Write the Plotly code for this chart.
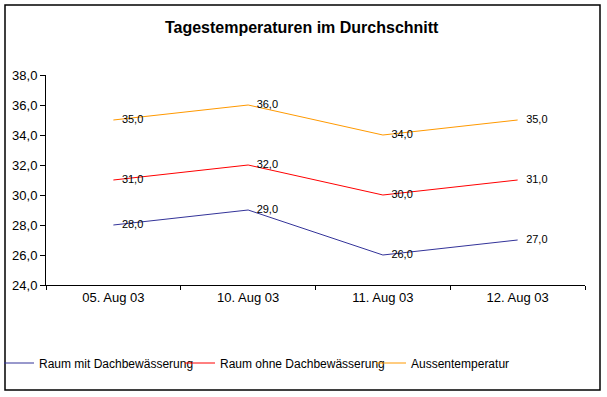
import plotly.graph_objects as go

categories = ["05. Aug 03", "10. Aug 03", "11. Aug 03", "12. Aug 03"]
raum_mit = [28.0, 29.0, 26.0, 27.0]
raum_ohne = [31.0, 32.0, 30.0, 31.0]
aussen = [35.0, 36.0, 34.0, 35.0]
series_names = ["Raum mit Dachbewässerung", "Raum ohne Dachbewässerung", "Aussentemperatur"]
series_colors = ["#333399", "#FF0000", "#FF9900"]

FONT = "Liberation Sans, Arial, sans-serif"

# plot area in pixels: x 46..585, y 75..285
PL, PR, PT, PB = 46, 585, 75, 285
W, H = PR - PL, PB - PT

def px_x(x):
    return (x - PL) / W

def px_y(y):
    return (PB - y) / H

legend_ids = ["legend", "legend2", "legend3"]
legend_text_x = [39, 220, 411]

fig = go.Figure()
for name, vals, col, lid in zip(series_names, [raum_mit, raum_ohne, aussen], series_colors, legend_ids):
    fig.add_trace(go.Scatter(
        x=categories, y=vals, name=name, mode="lines+markers+text",
        line=dict(color=col, width=1),
        marker=dict(size=12, color="rgba(0,0,0,0)"),
        text=[f"{v:.1f}".replace(".", ",") for v in vals],
        textposition="middle right",
        textfont=dict(family=FONT, size=11, color="black"),
        cliponaxis=False,
        legend=lid,
    ))

legend_common = dict(orientation="h", yanchor="middle", xanchor="left",
                     font=dict(family=FONT, size=12, color="black"),
                     itemwidth=30, bgcolor="rgba(0,0,0,0)", borderwidth=0)

fig.update_layout(
    width=607, height=397,
    margin=dict(l=PL, r=607 - PR, t=PT, b=397 - PB, autoexpand=False),
    paper_bgcolor="white", plot_bgcolor="white",
    separators=",.",
    title=dict(text="<b>Tagestemperaturen im Durchschnitt</b>", x=0.497, xref="container",
               xanchor="center", y=1 - 27 / 397, yanchor="middle",
               font=dict(family=FONT, size=16, color="black")),
    font=dict(family=FONT, size=13, color="black"),
    showlegend=True,
    legend=dict(x=px_x(legend_text_x[0] - 40), y=px_y(363), **legend_common),
    legend2=dict(x=px_x(legend_text_x[1] - 40), y=px_y(363), **legend_common),
    legend3=dict(x=px_x(legend_text_x[2] - 40), y=px_y(363), **legend_common),
    xaxis=dict(type="category", range=[-0.5, 3.5], showgrid=False, zeroline=False,
               showline=True, linecolor="black", linewidth=1,
               ticks="outside", ticklen=4, tickcolor="black", tickson="boundaries",
               tickfont=dict(family=FONT, size=13, color="black")),
    yaxis=dict(range=[24, 38], dtick=2, tickformat=".1f", showgrid=False, zeroline=False,
               showline=True, linecolor="black", linewidth=1,
               ticks="outside", ticklen=5, tickcolor="black",
               tickfont=dict(family=FONT, size=13, color="black")),
    shapes=[dict(type="rect", xref="paper", yref="paper",
                 x0=px_x(5), x1=px_x(600), y0=px_y(390), y1=px_y(5),
                 line=dict(color="black", width=1.5), fillcolor="rgba(0,0,0,0)", layer="below")],
)

fig.write_html("out.html", config={"displayModeBar": False},
               post_script="document.body.style.margin='0';")
